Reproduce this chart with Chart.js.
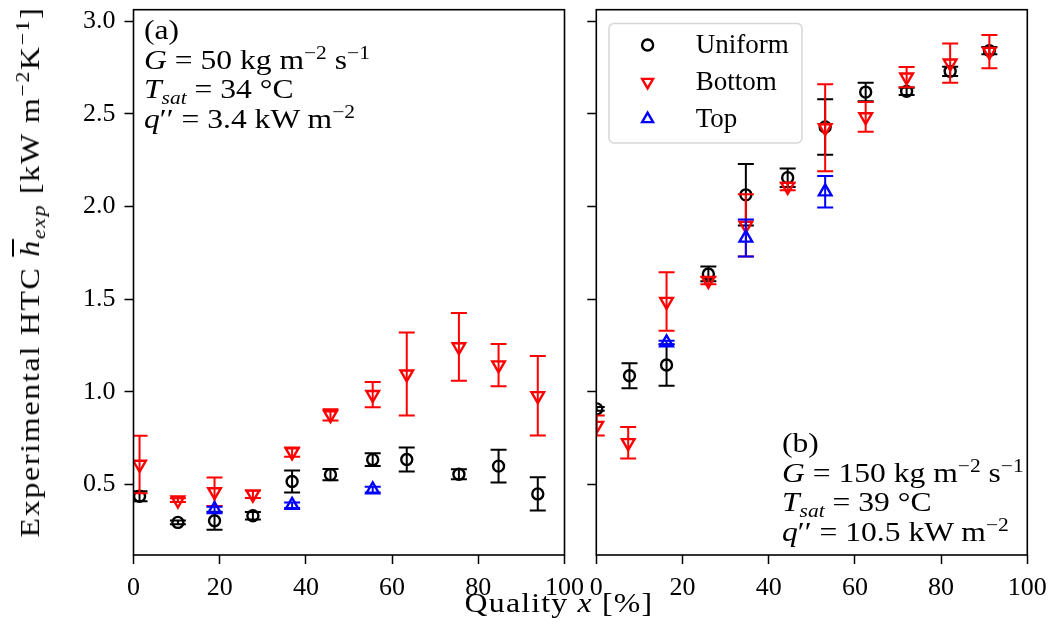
<!DOCTYPE html>
<html>
<head>
<meta charset="utf-8">
<script src="https://cdn.jsdelivr.net/npm/chart.js@4/dist/chart.umd.min.js"></script>
<style>
  html, body { margin: 0; padding: 0; background: #fff; }
  #wrap { position: relative; width: 1051px; height: 628px; overflow: hidden;
          font-family: "Liberation Serif", "DejaVu Serif", serif; color: #000; }
  canvas { position: absolute; left: 0; top: 0; }
  .note { position: absolute; font-size: 27px; line-height: 29.7px; white-space: nowrap;
          transform-origin: 0 0; transform: scaleX(1.17); }
  .note sup, .lab sup { font-size: 68%; vertical-align: 0.55em; line-height: 0; }
  .note sub, .lab sub { font-size: 68%; vertical-align: -0.3em; line-height: 0; }
  .lab { position: absolute; font-size: 27px; white-space: nowrap; line-height: 1; }
  #ylab { left: 30px; top: 272px; font-size: 28px; letter-spacing: 1.5px;
          transform: translate(-50%, -50%) rotate(-90deg) scaleX(1.14); }
  #xlab { left: 559px; top: 603px; letter-spacing: 1px; transform: translate(-50%, -50%) scaleX(1.18); }
  .ov { text-decoration: overline; }
</style>
</head>
<body>
<div id="wrap">
  <canvas id="left" width="1051" height="628"></canvas>
  <canvas id="right" width="1051" height="628"></canvas>
  <div class="note" style="left:144px; top:16px;">
    (a)<br>
    <i>G</i> = 50 kg m<sup>−2</sup> s<sup>−1</sup><br>
    <i>T</i><sub><i>sat</i></sub> = 34 °C<br>
    <i>q</i>′′ = 3.4 kW m<sup>−2</sup>
  </div>
  <div class="note" style="left:782px; top:429px;">
    (b)<br>
    <i>G</i> = 150 kg m<sup>−2</sup> s<sup>−1</sup><br>
    <i>T</i><sub><i>sat</i></sub> = 39 °C<br>
    <i>q</i>′′ = 10.5 kW m<sup>−2</sup>
  </div>
  <div class="lab" id="ylab">Experimental HTC <i class="ov">h</i><sub><i>exp</i></sub> [kW m<sup>−2</sup>K<sup>−1</sup>]</div>
  <div class="lab" id="xlab">Quality <i>x</i> [%]</div>
</div>
<script>
// ---- Panel (a): G = 50 kg m^-2 s^-1 ----
const xUniformA = [1.4, 10.3, 18.8, 27.7, 36.8, 45.7, 55.5, 63.4, 75.5, 84.7, 93.8];
const hUniformA = [0.435, 0.294, 0.303, 0.330, 0.515, 0.552, 0.633, 0.634, 0.554, 0.598, 0.448];
const eUniformA = [0.027, 0.010, 0.048, 0.020, 0.060, 0.030, 0.035, 0.065, 0.027, 0.089, 0.090];

const xBottomA = [1.4, 10.3, 18.8, 27.7, 36.8, 45.7, 55.5, 63.4, 75.5, 84.7, 93.8];
const hBottomA = [0.607, 0.414, 0.459, 0.446, 0.674, 0.875, 0.984, 1.095, 1.242, 1.144, 0.978];
const eBottomA = [0.155, 0.010, 0.077, 0.020, 0.025, 0.030, 0.068, 0.224, 0.183, 0.114, 0.215];

const xTopA = [18.8, 36.8, 55.5];
const hTopA = [0.364, 0.387, 0.471];
const eTopA = [0.015, 0.015, 0.015];

// ---- Panel (b): G = 150 kg m^-2 s^-1 ----
const xUniformB = [0.1, 7.7, 16.3, 26.0, 34.7, 44.4, 53.1, 62.5, 72.0, 82.1, 91.2];
const hUniformB = [0.907, 1.086, 1.144, 1.636, 2.063, 2.156, 2.430, 2.618, 2.622, 2.730, 2.842];
const eUniformB = [0.010, 0.067, 0.112, 0.040, 0.166, 0.050, 0.150, 0.050, 0.020, 0.025, 0.020];

const xBottomB = [0.1, 7.4, 16.3, 26.0, 34.7, 44.4, 53.1, 62.5, 72.0, 82.1, 91.2];
const hBottomB = [0.817, 0.724, 1.487, 1.600, 1.898, 2.108, 2.425, 2.484, 2.699, 2.774, 2.837];
const eBottomB = [0.054, 0.085, 0.158, 0.020, 0.168, 0.020, 0.235, 0.080, 0.055, 0.106, 0.090];

const xTopB = [16.3, 34.7, 53.1];
const hTopB = [1.265, 1.830, 2.080];
const eTopB = [0.010, 0.100, 0.085];

// ---- Axes ----
const xTickValues = [0, 20, 40, 60, 80, 100];
const yTickValues = [0.5, 1.0, 1.5, 2.0, 2.5, 3.0];
const xLimits = [0, 100];
const yLimits = [0.118, 3.063];

const FONT = "'Liberation Serif', 'DejaVu Serif', serif";

function pts(xs, ys) { return xs.map((x, i) => ({ x: x, y: ys[i] })); }

function makeSeries(xs, ys, es, kind) {
  const styles = {
    Uniform: { color: '#000000', pointStyle: 'circle', rotation: 0, radius: 5.5, order: 3 },
    Bottom:  { color: '#ff0000', pointStyle: 'triangle', rotation: 180, radius: 7.3, order: 2 },
    Top:     { color: '#0000ff', pointStyle: 'triangle', rotation: 0, radius: 7.3, order: 1 }
  };
  const s = styles[kind];
  return {
    label: kind,
    data: pts(xs, ys),
    errors: es,
    borderColor: s.color,
    backgroundColor: 'rgba(0,0,0,0)',
    pointStyle: s.pointStyle,
    rotation: s.rotation,
    pointRadius: s.radius,
    pointHoverRadius: s.radius,
    pointBorderWidth: 2.4,
    showLine: false,
    clip: 0,
    order: s.order
  };
}

// Vertical error bars with caps, drawn just before each dataset's markers
const errorBars = {
  id: 'errorBars',
  beforeDatasetDraw(chart, args) {
    const ds = chart.data.datasets[args.index];
    if (!ds.errors) return;
    const xs = chart.scales.x, ys = chart.scales.y, a = chart.chartArea, ctx = chart.ctx;
    ctx.save();
    ctx.beginPath();
    ctx.rect(a.left, a.top, a.right - a.left, a.bottom - a.top);
    ctx.clip();
    ctx.strokeStyle = ds.borderColor;
    ctx.lineWidth = 2;
    const cap = 8;
    ds.data.forEach((p, i) => {
      const e = ds.errors[i];
      const px = xs.getPixelForValue(p.x);
      const lo = ys.getPixelForValue(p.y - e);
      const hi = ys.getPixelForValue(p.y + e);
      ctx.beginPath();
      ctx.moveTo(px, lo); ctx.lineTo(px, hi);
      ctx.moveTo(px - cap, lo); ctx.lineTo(px + cap, lo);
      ctx.moveTo(px - cap, hi); ctx.lineTo(px + cap, hi);
      ctx.stroke();
    });
    ctx.restore();
  }
};

// Full box around the plotting area
const frame = {
  id: 'frame',
  afterDatasetsDraw(chart) {
    const a = chart.chartArea, ctx = chart.ctx;
    ctx.save();
    ctx.strokeStyle = '#000';
    ctx.lineWidth = 1.6;
    ctx.strokeRect(a.left, a.top, a.right - a.left, a.bottom - a.top);
    ctx.restore();
  }
};

// Boxed legend in the upper-left corner of a panel
const boxLegend = {
  id: 'boxLegend',
  afterDraw(chart, args, opts) {
    if (!opts.show) return;
    const a = chart.chartArea, ctx = chart.ctx;
    const x0 = a.left + 12.7, y0 = a.top + 13.7, w = 193, h = 119.5, r = 5;
    ctx.save();
    ctx.beginPath();
    ctx.moveTo(x0 + r, y0);
    ctx.arcTo(x0 + w, y0, x0 + w, y0 + h, r);
    ctx.arcTo(x0 + w, y0 + h, x0, y0 + h, r);
    ctx.arcTo(x0, y0 + h, x0, y0, r);
    ctx.arcTo(x0, y0, x0 + w, y0, r);
    ctx.closePath();
    ctx.fillStyle = 'rgba(255,255,255,0.8)';
    ctx.fill();
    ctx.strokeStyle = 'rgba(204,204,204,0.8)';
    ctx.lineWidth = 1.5;
    ctx.stroke();
    chart.data.datasets.forEach((ds, i) => {
      const cy = y0 + 21.6 + i * 37;
      ctx.strokeStyle = ds.borderColor;
      ctx.fillStyle = 'rgba(0,0,0,0)';
      ctx.lineWidth = 2.4;
      Chart.helpers.drawPoint(ctx, {
        pointStyle: ds.pointStyle, rotation: ds.rotation,
        radius: ds.pointStyle === 'circle' ? ds.pointRadius : 6.3, borderWidth: 2.4
      }, x0 + 38.6, cy);
      ctx.fillStyle = '#000';
      ctx.font = '27px ' + FONT;
      ctx.textBaseline = 'middle';
      ctx.textAlign = 'left';
      ctx.fillText(ds.label, x0 + 86.7, cy + 1);
    });
    ctx.restore();
  }
};

function makeChart(id, datasets, pad, yWidth, showYLabels, showLegend) {
  return new Chart(document.getElementById(id), {
    type: 'scatter',
    data: { datasets: datasets },
    plugins: [errorBars, frame, boxLegend],
    options: {
      responsive: false,
      animation: false,
      devicePixelRatio: 1,
      layout: { padding: pad },
      plugins: {
        legend: { display: false },
        tooltip: { enabled: false },
        boxLegend: { show: showLegend }
      },
      scales: {
        x: {
          type: 'linear', position: 'bottom',
          min: xLimits[0], max: xLimits[1],
          afterBuildTicks(s) { s.ticks = xTickValues.map(v => ({ value: v })); },
          afterFit(s) { s.height = 73; s.paddingLeft = 0; s.paddingRight = 0; },
          grid: { display: true, drawOnChartArea: false, drawTicks: true,
                  tickLength: 9, tickWidth: 1.5, tickColor: '#000' },
          border: { display: false },
          ticks: { color: '#000', padding: 9, maxRotation: 0,
                   font: { family: FONT, size: 26 },
                   callback: v => String(v) }
        },
        y: {
          type: 'linear', position: 'left',
          min: yLimits[0], max: yLimits[1],
          afterBuildTicks(s) { s.ticks = yTickValues.map(v => ({ value: v })); },
          afterFit(s) { s.width = yWidth; s.paddingTop = 0; s.paddingBottom = 0; },
          grid: { display: true, drawOnChartArea: false, drawTicks: true,
                  tickLength: 9, tickWidth: 1.5, tickColor: '#000' },
          border: { display: false },
          ticks: { color: '#000', padding: 9, display: showYLabels,
                   font: { family: FONT, size: 26 },
                   callback: v => Number(v).toFixed(1) }
        }
      }
    }
  });
}

makeChart('left', [
  makeSeries(xUniformA, hUniformA, eUniformA, 'Uniform'),
  makeSeries(xBottomA, hBottomA, eBottomA, 'Bottom'),
  makeSeries(xTopA, hTopA, eTopA, 'Top')
], { left: 0, top: 8, right: 486.5, bottom: 0 }, 133.5, true, false);

makeChart('right', [
  makeSeries(xUniformB, hUniformB, eUniformB, 'Uniform'),
  makeSeries(xBottomB, hBottomB, eBottomB, 'Bottom'),
  makeSeries(xTopB, hTopB, eTopB, 'Top')
], { left: 560, top: 8, right: 23.7, bottom: 0 }, 36.3, false, true);
</script>
</body>
</html>
